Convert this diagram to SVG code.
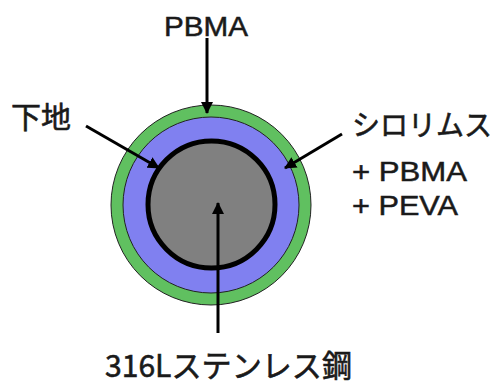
<svg xmlns="http://www.w3.org/2000/svg" width="498" height="386" viewBox="0 0 498 386">
<style>
.lat{font-family:"Liberation Sans",Arial,sans-serif;fill:#1a1a1a;stroke:#1a1a1a;stroke-width:0.5}
.jp{font-family:"Noto Sans CJK JP","Noto Sans",sans-serif;fill:#1a1a1a;stroke:#1a1a1a;stroke-width:0.6}
.conn{stroke:#000;stroke-width:3;fill:none;marker-end:url(#ah)}
</style>
<defs>
<marker id="ah" markerUnits="userSpaceOnUse" markerWidth="12" markerHeight="12" refX="11" refY="6" orient="auto">
<path d="M0,0 L12,6 L0,12 z" fill="#000"/>
</marker>
</defs>
<rect width="498" height="386" fill="#fff"/>
<g id="stent">
<circle cx="211" cy="205" r="100" fill="#60c060" stroke="#222" stroke-width="1"/>
<circle cx="211" cy="205" r="88" fill="#8080f0" stroke="#222" stroke-width="1"/>
<circle cx="211.5" cy="204.5" r="63.5" fill="#808080" stroke="#000" stroke-width="5"/>
</g>
<g id="connectors">
<line class="conn" x1="207" y1="38" x2="207" y2="113"/>
<line class="conn" x1="86" y1="126" x2="159" y2="168"/>
<line class="conn" x1="342" y1="134" x2="285" y2="168"/>
<line class="conn" x1="218" y1="333" x2="218" y2="203"/>
</g>
<g id="label-pbma-top"><text class="lat" x="164" y="36" font-size="27" textLength="84" lengthAdjust="spacingAndGlyphs">PBMA</text></g>
<g id="label-base"><text class="jp" x="11" y="128" font-size="30">下地</text></g>
<g id="label-sirolimus">
<text class="jp" x="352" y="136" font-size="29" textLength="140" lengthAdjust="spacingAndGlyphs">シロリムス</text>
<text class="lat" x="352" y="180.5" font-size="28" textLength="115" lengthAdjust="spacingAndGlyphs">+ PBMA</text>
<text class="lat" x="352" y="215" font-size="28" textLength="106" lengthAdjust="spacingAndGlyphs">+ PEVA</text>
</g>
<g id="label-steel"><text class="jp" x="105" y="377" font-size="31" textLength="247" lengthAdjust="spacingAndGlyphs">316Lステンレス鋼</text></g>
</svg>
